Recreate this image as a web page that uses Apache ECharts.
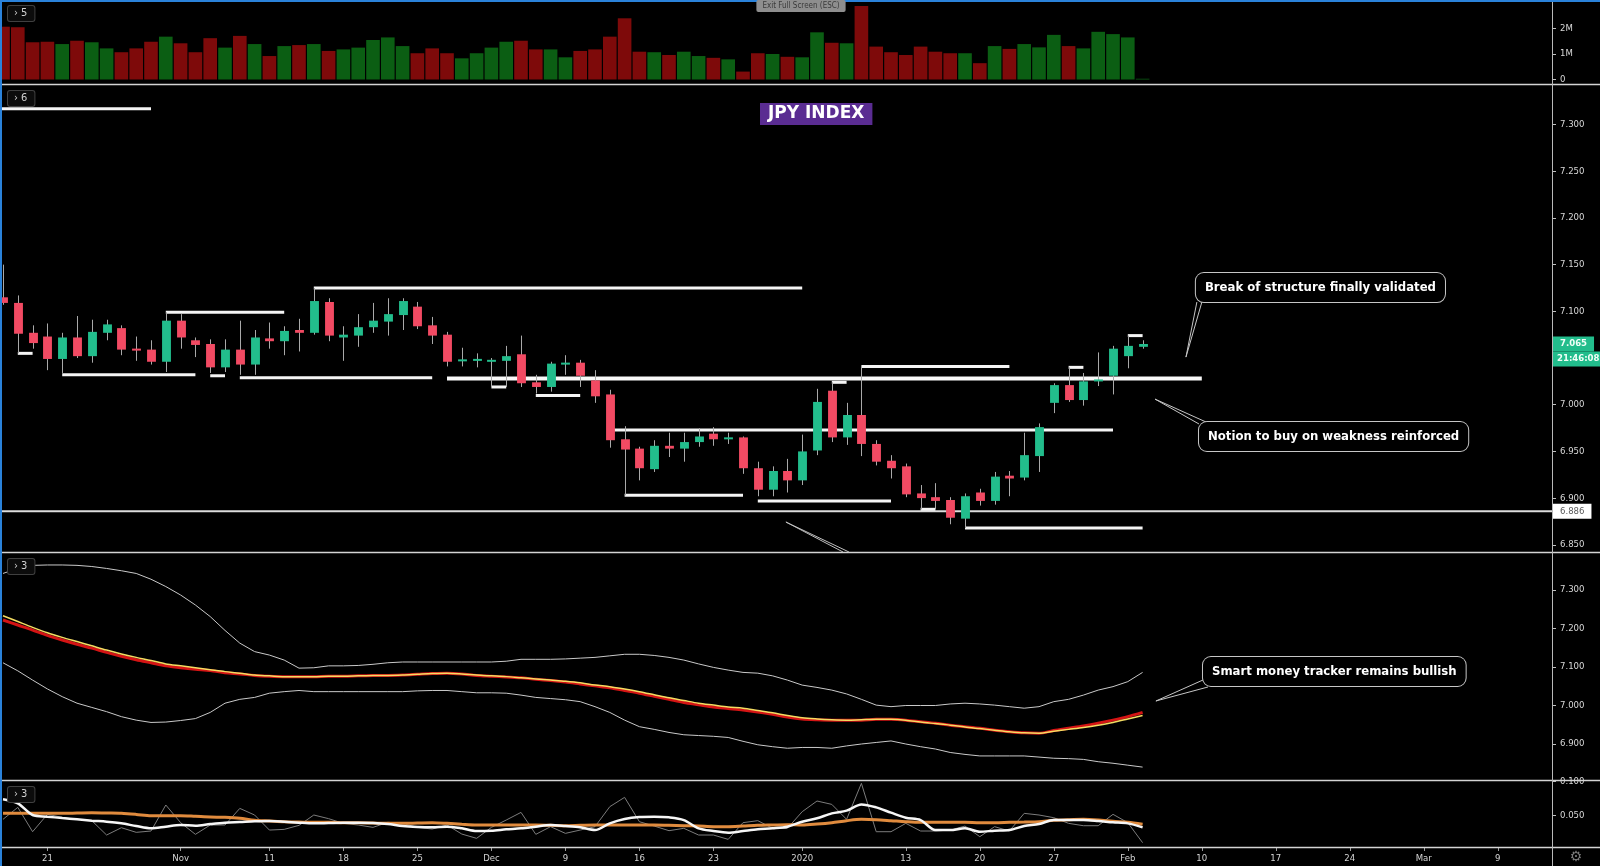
<!DOCTYPE html>
<html><head><meta charset="utf-8">
<script src="https://cdn.jsdelivr.net/npm/echarts@6/dist/echarts.min.js"></script>
<style>html,body{margin:0;padding:0;background:#000;}#c{width:1600px;height:866px;}</style>
</head><body><div id="c"></div>
<script>
// ---------- categories (trading days) ----------
const dates = [
'2019-10-16','2019-10-17','2019-10-18','2019-10-21','2019-10-22','2019-10-23','2019-10-24','2019-10-25',
'2019-10-28','2019-10-29','2019-10-30','2019-10-31','2019-11-01','2019-11-04','2019-11-05','2019-11-06','2019-11-07','2019-11-08',
'2019-11-11','2019-11-12','2019-11-13','2019-11-14','2019-11-15','2019-11-18','2019-11-19','2019-11-20','2019-11-21','2019-11-22',
'2019-11-25','2019-11-26','2019-11-27','2019-11-28','2019-11-29','2019-12-02','2019-12-03','2019-12-04','2019-12-05','2019-12-06',
'2019-12-09','2019-12-10','2019-12-11','2019-12-12','2019-12-13','2019-12-16','2019-12-17','2019-12-18','2019-12-19','2019-12-20',
'2019-12-23','2019-12-24','2019-12-26','2019-12-27','2019-12-30','2019-12-31','2020-01-02','2020-01-03',
'2020-01-06','2020-01-07','2020-01-08','2020-01-09','2020-01-10','2020-01-13','2020-01-14','2020-01-15','2020-01-16','2020-01-17',
'2020-01-20','2020-01-21','2020-01-22','2020-01-23','2020-01-24','2020-01-27','2020-01-28','2020-01-29','2020-01-30','2020-01-31',
'2020-02-03','2020-02-04','2020-02-05','2020-02-06','2020-02-07','2020-02-10','2020-02-11','2020-02-12','2020-02-13','2020-02-14',
'2020-02-17','2020-02-18','2020-02-19','2020-02-20','2020-02-21','2020-02-24','2020-02-25','2020-02-26','2020-02-27','2020-02-28',
'2020-03-02','2020-03-03','2020-03-04','2020-03-05','2020-03-06','2020-03-09','2020-03-10','2020-03-11','2020-03-12'];

const xTickDates = ['2019-10-21','2019-11-01','2019-11-11','2019-11-18','2019-11-25','2019-12-02','2019-12-09','2019-12-16','2019-12-23','2020-01-02','2020-01-13','2020-01-20','2020-01-27','2020-02-03','2020-02-10','2020-02-17','2020-02-24','2020-03-02','2020-03-09'];
const xTickTexts = ['21','Nov','11','18','25','Dec','9','16','23','2020','13','20','27','Feb','10','17','24','Mar','9'];

// ---------- OHLC ----------
const open = [7.115,7.109,7.077,7.073,7.049,7.072,7.052,7.077,7.082,7.060,
7.059,7.046,7.090,7.069,7.065,7.040,7.059,7.043,7.071,7.068,
7.080,7.077,7.110,7.072,7.074,7.083,7.089,7.096,7.105,7.085,
7.075,7.047,7.047,7.046,7.047,7.054,7.024,7.019,7.043,7.045,
7.026,7.011,6.963,6.953,6.931,6.956,6.953,6.960,6.969,6.963,
6.965,6.932,6.909,6.929,6.919,6.951,7.015,6.965,6.989,6.958,
6.940,6.934,6.905,6.901,6.898,6.878,6.906,6.897,6.924,6.922,
6.945,7.002,7.021,7.005,7.025,7.031,7.052,7.062];
const high = [7.150,7.117,7.085,7.087,7.077,7.095,7.091,7.091,7.085,7.073,
7.069,7.099,7.097,7.072,7.070,7.070,7.090,7.080,7.088,7.084,
7.092,7.125,7.114,7.084,7.097,7.109,7.114,7.114,7.110,7.094,
7.078,7.061,7.055,7.050,7.063,7.074,7.032,7.046,7.053,7.048,
7.037,7.016,6.977,6.955,6.962,6.970,6.970,6.975,6.976,6.970,
6.966,6.939,6.934,6.942,6.968,7.017,7.024,7.002,7.041,6.962,
6.946,6.937,6.914,6.916,6.901,6.905,6.910,6.928,6.929,6.970,
6.980,7.023,7.040,7.034,7.056,7.063,7.074,7.069];
const low = [7.107,7.055,7.060,7.037,7.034,7.050,7.045,7.069,7.053,7.047,
7.043,7.035,7.060,7.051,7.034,7.035,7.032,7.032,7.060,7.053,
7.057,7.075,7.068,7.047,7.062,7.077,7.074,7.080,7.081,7.065,
7.041,7.041,7.040,7.019,7.019,7.019,7.012,7.014,7.032,7.019,
7.002,6.954,6.903,6.919,6.928,6.944,6.939,6.955,6.956,6.958,
6.926,6.902,6.902,6.906,6.914,6.946,6.960,6.957,6.945,6.935,
6.921,6.901,6.888,6.888,6.872,6.868,6.892,6.893,6.902,6.919,
6.928,6.991,7.003,6.999,7.020,7.011,7.039,7.060];
const close = [7.109,7.076,7.066,7.049,7.072,7.052,7.078,7.086,7.059,7.058,
7.046,7.090,7.072,7.064,7.040,7.059,7.043,7.072,7.068,7.079,
7.077,7.111,7.074,7.075,7.083,7.090,7.097,7.111,7.084,7.074,
7.046,7.048,7.049,7.048,7.052,7.023,7.019,7.044,7.045,7.031,
7.009,6.962,6.952,6.932,6.956,6.953,6.960,6.966,6.963,6.965,
6.932,6.909,6.929,6.919,6.950,7.003,6.965,6.989,6.958,6.939,
6.932,6.904,6.900,6.897,6.879,6.902,6.897,6.923,6.921,6.946,
6.976,7.021,7.005,7.025,7.027,7.060,7.063,7.065];
// volume, millions
const volume = [2.07,2.05,1.46,1.48,1.39,1.52,1.46,1.22,1.07,1.22,
1.48,1.68,1.42,1.07,1.62,1.25,1.71,1.39,0.92,1.31,
1.35,1.39,1.12,1.18,1.25,1.55,1.65,1.31,1.03,1.22,
1.03,0.83,1.03,1.25,1.48,1.52,1.18,1.18,0.87,1.12,
1.18,1.68,2.40,1.09,1.07,0.96,1.09,0.92,0.85,0.79,
0.31,1.03,1.00,0.89,0.87,1.85,1.44,1.42,2.88,1.29,
1.07,0.96,1.29,1.09,1.03,1.03,0.64,1.31,1.20,1.39,
1.26,1.75,1.31,1.22,1.87,1.78,1.65,0.03];

// ---------- indicator panel ----------
const upperBand = [7.343,7.356,7.364,7.365,7.365,7.364,7.361,7.356,7.350,7.343,
7.328,7.309,7.287,7.261,7.231,7.195,7.162,7.140,7.131,7.118,
7.097,7.098,7.103,7.103,7.104,7.107,7.111,7.113,7.113,7.113,
7.113,7.113,7.113,7.113,7.115,7.120,7.120,7.120,7.121,7.123,
7.125,7.129,7.133,7.133,7.130,7.125,7.118,7.108,7.099,7.092,
7.086,7.084,7.077,7.066,7.053,7.047,7.040,7.030,7.016,7.001,
6.997,7.000,7.000,7.000,7.004,7.006,7.004,7.001,6.997,6.993,
6.997,7.010,7.016,7.027,7.040,7.049,7.062,7.086];
const lowerBand = [7.111,7.090,7.066,7.043,7.023,7.006,6.995,6.984,6.971,6.962,
6.956,6.957,6.961,6.966,6.982,7.006,7.016,7.021,7.032,7.036,
7.039,7.036,7.036,7.036,7.036,7.036,7.036,7.036,7.038,7.039,
7.039,7.036,7.033,7.033,7.032,7.027,7.021,7.018,7.015,7.010,
6.997,6.982,6.962,6.945,6.938,6.930,6.924,6.922,6.920,6.917,
6.907,6.898,6.893,6.889,6.891,6.891,6.889,6.895,6.900,6.904,
6.908,6.900,6.893,6.887,6.878,6.873,6.869,6.869,6.869,6.869,
6.866,6.863,6.862,6.860,6.854,6.850,6.845,6.840];
const maYellow = [7.233,7.218,7.203,7.189,7.177,7.166,7.155,7.144,7.134,7.125,
7.117,7.108,7.103,7.098,7.093,7.088,7.084,7.079,7.077,7.075,
7.075,7.075,7.076,7.076,7.077,7.078,7.078,7.079,7.081,7.083,
7.084,7.082,7.079,7.077,7.075,7.072,7.069,7.066,7.063,7.059,
7.053,7.049,7.043,7.036,7.028,7.020,7.013,7.006,7.001,6.996,
6.993,6.987,6.981,6.974,6.968,6.965,6.963,6.962,6.963,6.964,
6.964,6.962,6.957,6.953,6.949,6.944,6.940,6.936,6.932,6.929,
6.928,6.933,6.938,6.943,6.949,6.956,6.965,6.974];
const maRed = [7.222,7.209,7.196,7.182,7.170,7.159,7.149,7.138,7.128,7.119,
7.111,7.103,7.098,7.094,7.091,7.085,7.082,7.078,7.076,7.075,
7.075,7.075,7.076,7.076,7.077,7.078,7.078,7.079,7.081,7.083,
7.084,7.082,7.078,7.076,7.074,7.072,7.068,7.065,7.061,7.056,
7.051,7.046,7.039,7.032,7.024,7.016,7.008,7.002,6.996,6.992,
6.988,6.983,6.977,6.970,6.965,6.963,6.962,6.962,6.962,6.964,
6.964,6.962,6.958,6.954,6.949,6.945,6.941,6.936,6.932,6.929,
6.928,6.935,6.941,6.947,6.954,6.962,6.971,6.982];

// ---------- oscillator panel ----------
const oscWhite = [0.0737,0.0679,0.0510,0.0486,0.0466,0.0447,0.0428,0.0413,0.0389,0.0350,
0.0317,0.0341,0.0365,0.0355,0.0379,0.0399,0.0408,0.0418,0.0423,0.0413,
0.0399,0.0389,0.0394,0.0399,0.0399,0.0394,0.0379,0.0350,0.0336,0.0331,
0.0341,0.0317,0.0278,0.0283,0.0302,0.0317,0.0341,0.0365,0.0350,0.0331,
0.0292,0.0389,0.0452,0.0481,0.0486,0.0476,0.0437,0.0317,0.0278,0.0254,
0.0278,0.0302,0.0317,0.0341,0.0413,0.0462,0.0534,0.0573,0.0664,0.0621,
0.0544,0.0471,0.0437,0.0292,0.0292,0.0317,0.0268,0.0283,0.0292,0.0350,
0.0379,0.0437,0.0437,0.0437,0.0423,0.0404,0.0389,0.0331];
const oscOrange = [0.0534,0.0534,0.0534,0.0534,0.0534,0.0539,0.0544,0.0539,0.0534,0.0519,
0.0500,0.0500,0.0500,0.0491,0.0481,0.0476,0.0462,0.0433,0.0423,0.0413,
0.0408,0.0404,0.0404,0.0399,0.0399,0.0394,0.0389,0.0389,0.0394,0.0399,
0.0389,0.0375,0.0365,0.0365,0.0365,0.0365,0.0365,0.0360,0.0355,0.0360,
0.0365,0.0365,0.0365,0.0365,0.0365,0.0360,0.0355,0.0350,0.0341,0.0341,
0.0350,0.0360,0.0365,0.0370,0.0365,0.0379,0.0399,0.0428,0.0447,0.0442,
0.0428,0.0413,0.0404,0.0404,0.0404,0.0404,0.0399,0.0399,0.0404,0.0408,
0.0413,0.0433,0.0442,0.0447,0.0437,0.0418,0.0404,0.0375];
const oscGray = [0.0447,0.0621,0.0268,0.0520,0.0476,0.0447,0.0428,0.0220,0.0326,0.0259,
0.0278,0.0655,0.0399,0.0230,0.0365,0.0365,0.0606,0.0510,0.0292,0.0302,
0.0360,0.0510,0.0457,0.0389,0.0365,0.0331,0.0404,0.0389,0.0331,0.0307,
0.0365,0.0234,0.0172,0.0331,0.0437,0.0548,0.0230,0.0341,0.0244,0.0292,
0.0341,0.0631,0.0766,0.0413,0.0350,0.0283,0.0317,0.0220,0.0220,0.0157,
0.0399,0.0428,0.0317,0.0317,0.0558,0.0713,0.0664,0.0447,0.0969,0.0268,
0.0268,0.0389,0.0278,0.0278,0.0292,0.0350,0.0196,0.0341,0.0278,0.0534,
0.0510,0.0471,0.0389,0.0355,0.0355,0.0520,0.0399,0.0109];

// ---------- drawn structure levels: [startBar, endBar, price] ----------
const structureLevels = [
  [-1,10,7.317],[21,54,7.125],[11,19,7.099],[1,2,7.055],[4,13,7.032],[14,15,7.031],
  [16,29,7.029],[33,34,7.019],[36,39,7.010],[41,75,6.973],[42,50,6.903],[56,57,7.024],
  [58,68,7.041],[51,60,6.897],[62,63,6.888],[65,77,6.868],[72,73,7.040],[76,77,7.074]];
const keyLevel = [[30,81,7.028]];
const floorLevel = [[-1,106,6.886]];

// ---------- axis tick values ----------
const priceTicks = [6.85,6.90,6.95,7.00,7.10,7.15,7.20,7.25,7.30];
const bandTicks = [6.9,7.0,7.1,7.2,7.3];
const oscTicks = [0.05,0.10];
const volTicks = [0,1,2];

// ---------- annotations ----------
const calloutTexts = ['Break of structure finally validated','Notion to buy on weakness reinforced','Smart money tracker remains bullish'];
const calloutPanel = [1,1,2];
const calloutBox = [[80.6,7.141],[80.81,6.9815],[81.08,7.126]];
const calloutTip = [[79.93,7.051],[77.84,7.006],[77.9,7.0117]];
const strayLeaderTip = [52.9,6.8744];
const strayLeaderEnds = [[56.76,6.8423],[57.16,6.8423]];
const countdownText = '21:46:08';

// ================= rendering =================
const GREEN = '#22bd8c', RED = '#f24a63', VGREEN = '#0b5e13', VRED = '#7e0a0a';
const AXF = '"DejaVu Sans Condensed","DejaVu Sans",sans-serif';
const X_MIN = -0.2027, X_MAX = 104.662;
const tickIdx = xTickDates.map(d => dates.indexOf(d));
const tickLookup = {}; tickIdx.forEach((ix, k) => tickLookup[ix] = xTickTexts[k]);

const grids = [
  {left:0, width:1552, top:2, height:82},
  {left:0, width:1552, top:84, height:468},
  {left:0, width:1552, top:552, height:228},
  {left:0, width:1552, top:780, height:67}
].map(g => Object.assign(g, {containLabel:false, outerBoundsMode:'none'}));

function xAx(gi, show){
  return {type:'value', gridIndex:gi, min:X_MIN, max:X_MAX, axisLine:{show:false, onZero:false}, splitLine:{show:false},
    axisTick:{show:show, customValues:tickIdx, length:4, lineStyle:{color:'#9a9a9a'}},
    axisLabel:{show:show, customValues:tickIdx, formatter:v => tickLookup[Math.round(v)] || '', color:'#d4d4d4', fontSize:9.5, fontFamily:AXF, margin:7}};
}
function yAx(gi, min, max, ticks, fmt){
  return {type:'value', gridIndex:gi, position:'right', min:min, max:max, axisLine:{show:false, onZero:false}, splitLine:{show:false},
    axisTick:{show:true, customValues:ticks, length:4, lineStyle:{color:'#c0c0c0'}},
    axisLabel:{customValues:ticks, formatter:fmt, color:'#d8d8d8', fontSize:9.5, fontFamily:AXF, margin:8}};
}

function levelSeries(data, w, color){
  return {type:'custom', xAxisIndex:1, yAxisIndex:1, clip:true, z:5,
    data:data, encode:{x:[0,1], y:2},
    renderItem:(p, api) => {
      const a = api.coord([api.value(0), api.value(2)]), b = api.coord([api.value(1), api.value(2)]);
      return {type:'line', shape:{x1:a[0], y1:a[1], x2:b[0], y2:b[1]}, style:{stroke:color, lineWidth:w}};
    }};
}
const xy = arr => arr.map((v, i) => [i, v]);

const option = {
  backgroundColor:'#000',
  animation:false,
  title:{text:'JPY INDEX', left:760, top:103, backgroundColor:'#5a2c92', padding:[1,8],
    textStyle:{color:'#fff', fontSize:17, fontWeight:'bold', fontFamily:'"DejaVu Sans",sans-serif', lineHeight:20}},
  grid:grids,
  xAxis:[xAx(0,false), xAx(1,false), xAx(2,false), xAx(3,true)],
  yAxis:[
    yAx(0, -0.1765, 3.039, volTicks, v => v === 0 ? '0' : Math.round(v) + 'M'),
    yAx(1, 6.8423, 7.3434, priceTicks, v => v.toFixed(3)),
    yAx(2, 6.8065, 7.3987, bandTicks, v => v.toFixed(3)),
    yAx(3, 0.004638, 0.10174, oscTicks, v => v.toFixed(3))
  ],
  series:[
    {type:'custom', name:'Volume', xAxisIndex:0, yAxisIndex:0, clip:true,
      data:volume.map((v, i) => [i, v, close[i] >= open[i] ? 1 : 0]), encode:{x:0, y:1},
      renderItem:(p, api) => {
        const i = api.value(0), v = api.value(1), up = api.value(2);
        const a = api.coord([i, 0]), b = api.coord([i, v]);
        const w = api.size([1, 0])[0] * 0.92;
        return {type:'rect', shape:{x:a[0] - w/2, y:b[1], width:w, height:a[1] - b[1]}, style:{fill: up ? VGREEN : VRED}};
      }},
    levelSeries(floorLevel, 2, '#dcdcdc'),
    levelSeries(structureLevels, 3, '#f4f4f4'),
    levelSeries(keyLevel, 4, '#f8f8f8'),
    {type:'custom', name:'JPY Index', xAxisIndex:1, yAxisIndex:1, clip:true, z:6,
      data:open.map((o, i) => [i, o, close[i], low[i], high[i]]), encode:{x:0, y:[1,2,3,4]},
      renderItem:(p, api) => {
        const i = api.value(0), o = api.value(1), c = api.value(2), l = api.value(3), h = api.value(4);
        const pO = api.coord([i, o]), pC = api.coord([i, c]), pL = api.coord([i, l]), pH = api.coord([i, h]);
        const bw = api.size([1, 0])[0] * 0.6;
        const x = Math.round(pO[0]) + 0.5;
        let top = Math.min(pO[1], pC[1]), hh = Math.abs(pO[1] - pC[1]);
        if (hh < 2) { top -= (2 - hh) / 2; hh = 2; }
        return {type:'group', children:[
          {type:'line', shape:{x1:x, y1:pH[1], x2:x, y2:pL[1]}, style:{stroke:'#a9a9a9', lineWidth:1}},
          {type:'rect', shape:{x:x - bw/2, y:top, width:bw, height:hh}, style:{fill: c >= o ? GREEN : RED}}
        ]};
      }},
    {type:'line', xAxisIndex:2, yAxisIndex:2, data:xy(upperBand), showSymbol:false, lineStyle:{color:'#c9c9c9', width:1}},
    {type:'line', xAxisIndex:2, yAxisIndex:2, data:xy(lowerBand), showSymbol:false, lineStyle:{color:'#c9c9c9', width:1}},
    {type:'line', xAxisIndex:2, yAxisIndex:2, data:xy(maRed), showSymbol:false, smooth:0.3, lineStyle:{color:'#d41414', width:3}},
    {type:'line', xAxisIndex:2, yAxisIndex:2, data:xy(maYellow), showSymbol:false, smooth:0.3, lineStyle:{color:'#f3dc62', width:1.5}},
    {type:'line', xAxisIndex:3, yAxisIndex:3, data:xy(oscGray), showSymbol:false, lineStyle:{color:'#7c7c7c', width:1}},
    {type:'line', xAxisIndex:3, yAxisIndex:3, data:xy(oscOrange), showSymbol:false, smooth:0.3, lineStyle:{color:'#e08b3e', width:3}},
    {type:'line', xAxisIndex:3, yAxisIndex:3, data:xy(oscWhite), showSymbol:false, smooth:0.3, lineStyle:{color:'#f6f6f6', width:2.5}}
  ]
};

const chart = echarts.init(document.getElementById('c'), null, {renderer:'canvas', width:1600, height:866});
chart.setOption(option);

// ---------- overlay graphics (chrome + annotations positioned through the chart's scales) ----------
const G = [];
const Z = 100;
[84, 552, 780, 847].forEach(y => G.push({type:'line', z:Z, shape:{x1:0, y1:y + 0.5, x2:1600, y2:y + 0.5}, style:{stroke:'#d4d4d4', lineWidth:1.3}}));
G.push({type:'line', z:Z, shape:{x1:1552.5, y1:0, x2:1552.5, y2:866}, style:{stroke:'#b9b9b9', lineWidth:1}});
G.push({type:'rect', z:Z + 5, shape:{x:0, y:0, width:1600, height:2}, style:{fill:'#2a82da'}});
G.push({type:'rect', z:Z + 5, shape:{x:0, y:0, width:2, height:866}, style:{fill:'#2a82da'}});
G.push({type:'text', z:Z + 6, x:801, y:0, style:{text:'Exit Full Screen (ESC)', fill:'#3a3a3a', font:'8px ' + AXF, align:'center', verticalAlign:'top', backgroundColor:'#8e8e8e', padding:[2,6,2,6], borderRadius:2}});
[['\u203A 5', 8, 6], ['\u203A 6', 8, 91], ['\u203A 3', 8, 559], ['\u203A 3', 8, 787]].forEach(w =>
  G.push({type:'text', z:Z + 2, x:w[1], y:w[2], style:{text:w[0], fill:'#d0d0d0', font:'11px ' + AXF, backgroundColor:'#0c0c0c', borderColor:'#404040', borderWidth:1, borderRadius:2, padding:[2,7,2,6], verticalAlign:'top', align:'left'}}));
G.push({type:'text', z:Z, x:1576, y:857, style:{text:'\u2699', fill:'#7a7a7a', font:'14px "DejaVu Sans"', align:'center', verticalAlign:'middle'}});

const wedge = [[[1,29],[6,29]], [[0,2],[7,0]], [[0,23],[5,30]]];
calloutTexts.forEach((t, k) => {
  const b = chart.convertToPixel({gridIndex:calloutPanel[k]}, calloutBox[k]);
  const tip = chart.convertToPixel({gridIndex:calloutPanel[k]}, calloutTip[k]);
  const w = wedge[k];
  G.push({type:'polyline', z:Z + 10, shape:{points:[[b[0] + w[0][0], b[1] + w[0][1]], tip, [b[0] + w[1][0], b[1] + w[1][1]]]}, style:{stroke:'#c6c6c6', lineWidth:1, fill:null}});
  G.push({type:'text', z:Z + 11, x:b[0], y:b[1], style:{text:t, fill:'#ffffff', font:'bold 13px ' + AXF, backgroundColor:'#000', borderColor:'#c6c6c6', borderWidth:1, borderRadius:8, padding:[7,9,7,9], lineHeight:15, align:'left', verticalAlign:'top'}});
});
{
  const tip = chart.convertToPixel({gridIndex:1}, strayLeaderTip);
  const e1 = chart.convertToPixel({gridIndex:1}, strayLeaderEnds[0]);
  const e2 = chart.convertToPixel({gridIndex:1}, strayLeaderEnds[1]);
  G.push({type:'polyline', z:Z, shape:{points:[e1, tip, e2]}, style:{stroke:'#bdbdbd', lineWidth:1, fill:null}});
}
{
  const last = close[close.length - 1];
  const pl = chart.convertToPixel({gridIndex:1}, [0, last]);
  G.push({type:'text', z:Z + 20, x:1553, y:pl[1], style:{text:last.toFixed(3), fill:'#f2fff8', font:'bold 9.5px ' + AXF, backgroundColor:GREEN, padding:[3,7,2,7], align:'left', verticalAlign:'middle'}});
  G.push({type:'text', z:Z + 20, x:1553, y:pl[1] + 15, style:{text:countdownText, fill:'#f2fff8', font:'bold 9.5px ' + AXF, backgroundColor:GREEN, padding:[3,4,2,4], align:'left', verticalAlign:'middle'}});
  const fl = floorLevel[0][2];
  const pf = chart.convertToPixel({gridIndex:1}, [0, fl]);
  G.push({type:'text', z:Z + 20, x:1553, y:pf[1], style:{text:fl.toFixed(3), fill:'#5a5a5a', font:'9.5px ' + AXF, backgroundColor:'#ffffff', padding:[3,7,2,7], align:'left', verticalAlign:'middle'}});
}
chart.setOption({graphic:{elements:G}});
</script></body></html>
